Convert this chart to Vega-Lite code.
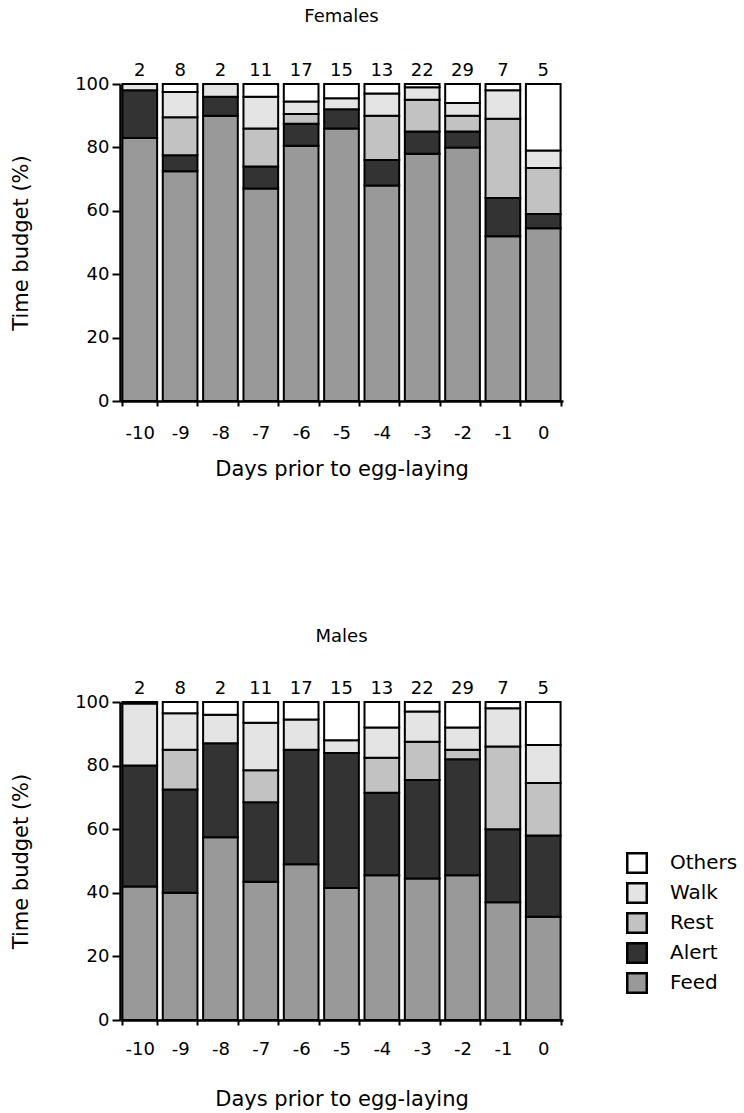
{
  "$schema": "https://vega.github.io/schema/vega-lite/v6.json",
  "padding": {"left": 10, "top": 8, "right": 5, "bottom": 4},
  "config": {
    "font": "DejaVu Sans",
    "view": {"stroke": null},
    "title": {"fontSize": 18, "fontWeight": "normal", "color": "black"},
    "axis": {
      "labelFontSize": 18, "titleFontSize": 21, "titleFontWeight": "normal",
      "labelColor": "black", "titleColor": "black", "domainColor": "black", "tickColor": "black",
      "domainWidth": 2.5, "tickWidth": 2, "grid": false
    },
    "legend": {"labelFontSize": 20, "labelColor": "black"}
  },
  "datasets": {
    "bars": [
      {"sex":"Females","day":-10,"beh":"Feed","pct":83},{"sex":"Females","day":-10,"beh":"Alert","pct":15},{"sex":"Females","day":-10,"beh":"Walk","pct":2},
      {"sex":"Females","day":-9,"beh":"Feed","pct":72.5},{"sex":"Females","day":-9,"beh":"Alert","pct":5},{"sex":"Females","day":-9,"beh":"Rest","pct":12},{"sex":"Females","day":-9,"beh":"Walk","pct":8},{"sex":"Females","day":-9,"beh":"Others","pct":2.5},
      {"sex":"Females","day":-8,"beh":"Feed","pct":90},{"sex":"Females","day":-8,"beh":"Alert","pct":6},{"sex":"Females","day":-8,"beh":"Walk","pct":4},
      {"sex":"Females","day":-7,"beh":"Feed","pct":67},{"sex":"Females","day":-7,"beh":"Alert","pct":7},{"sex":"Females","day":-7,"beh":"Rest","pct":12},{"sex":"Females","day":-7,"beh":"Walk","pct":10},{"sex":"Females","day":-7,"beh":"Others","pct":4},
      {"sex":"Females","day":-6,"beh":"Feed","pct":80.5},{"sex":"Females","day":-6,"beh":"Alert","pct":7},{"sex":"Females","day":-6,"beh":"Rest","pct":3},{"sex":"Females","day":-6,"beh":"Walk","pct":4},{"sex":"Females","day":-6,"beh":"Others","pct":5.5},
      {"sex":"Females","day":-5,"beh":"Feed","pct":86},{"sex":"Females","day":-5,"beh":"Alert","pct":6},{"sex":"Females","day":-5,"beh":"Walk","pct":3.5},{"sex":"Females","day":-5,"beh":"Others","pct":4.5},
      {"sex":"Females","day":-4,"beh":"Feed","pct":68},{"sex":"Females","day":-4,"beh":"Alert","pct":8},{"sex":"Females","day":-4,"beh":"Rest","pct":14},{"sex":"Females","day":-4,"beh":"Walk","pct":7},{"sex":"Females","day":-4,"beh":"Others","pct":3},
      {"sex":"Females","day":-3,"beh":"Feed","pct":78},{"sex":"Females","day":-3,"beh":"Alert","pct":7},{"sex":"Females","day":-3,"beh":"Rest","pct":10},{"sex":"Females","day":-3,"beh":"Walk","pct":4},{"sex":"Females","day":-3,"beh":"Others","pct":1},
      {"sex":"Females","day":-2,"beh":"Feed","pct":80},{"sex":"Females","day":-2,"beh":"Alert","pct":5},{"sex":"Females","day":-2,"beh":"Rest","pct":5},{"sex":"Females","day":-2,"beh":"Walk","pct":4},{"sex":"Females","day":-2,"beh":"Others","pct":6},
      {"sex":"Females","day":-1,"beh":"Feed","pct":52},{"sex":"Females","day":-1,"beh":"Alert","pct":12},{"sex":"Females","day":-1,"beh":"Rest","pct":25},{"sex":"Females","day":-1,"beh":"Walk","pct":9},{"sex":"Females","day":-1,"beh":"Others","pct":2},
      {"sex":"Females","day":0,"beh":"Feed","pct":54.5},{"sex":"Females","day":0,"beh":"Alert","pct":4.5},{"sex":"Females","day":0,"beh":"Rest","pct":14.5},{"sex":"Females","day":0,"beh":"Walk","pct":5.5},{"sex":"Females","day":0,"beh":"Others","pct":21},
      {"sex":"Males","day":-10,"beh":"Feed","pct":42},{"sex":"Males","day":-10,"beh":"Alert","pct":38},{"sex":"Males","day":-10,"beh":"Walk","pct":19.5},{"sex":"Males","day":-10,"beh":"Others","pct":0.5},
      {"sex":"Males","day":-9,"beh":"Feed","pct":40},{"sex":"Males","day":-9,"beh":"Alert","pct":32.5},{"sex":"Males","day":-9,"beh":"Rest","pct":12.5},{"sex":"Males","day":-9,"beh":"Walk","pct":11.5},{"sex":"Males","day":-9,"beh":"Others","pct":3.5},
      {"sex":"Males","day":-8,"beh":"Feed","pct":57.5},{"sex":"Males","day":-8,"beh":"Alert","pct":29.5},{"sex":"Males","day":-8,"beh":"Walk","pct":9},{"sex":"Males","day":-8,"beh":"Others","pct":4},
      {"sex":"Males","day":-7,"beh":"Feed","pct":43.5},{"sex":"Males","day":-7,"beh":"Alert","pct":25},{"sex":"Males","day":-7,"beh":"Rest","pct":10},{"sex":"Males","day":-7,"beh":"Walk","pct":15},{"sex":"Males","day":-7,"beh":"Others","pct":6.5},
      {"sex":"Males","day":-6,"beh":"Feed","pct":49},{"sex":"Males","day":-6,"beh":"Alert","pct":36},{"sex":"Males","day":-6,"beh":"Walk","pct":9.5},{"sex":"Males","day":-6,"beh":"Others","pct":5.5},
      {"sex":"Males","day":-5,"beh":"Feed","pct":41.5},{"sex":"Males","day":-5,"beh":"Alert","pct":42.5},{"sex":"Males","day":-5,"beh":"Walk","pct":4},{"sex":"Males","day":-5,"beh":"Others","pct":12},
      {"sex":"Males","day":-4,"beh":"Feed","pct":45.5},{"sex":"Males","day":-4,"beh":"Alert","pct":26},{"sex":"Males","day":-4,"beh":"Rest","pct":11},{"sex":"Males","day":-4,"beh":"Walk","pct":9.5},{"sex":"Males","day":-4,"beh":"Others","pct":8},
      {"sex":"Males","day":-3,"beh":"Feed","pct":44.5},{"sex":"Males","day":-3,"beh":"Alert","pct":31},{"sex":"Males","day":-3,"beh":"Rest","pct":12},{"sex":"Males","day":-3,"beh":"Walk","pct":9.5},{"sex":"Males","day":-3,"beh":"Others","pct":3},
      {"sex":"Males","day":-2,"beh":"Feed","pct":45.5},{"sex":"Males","day":-2,"beh":"Alert","pct":36.5},{"sex":"Males","day":-2,"beh":"Rest","pct":3},{"sex":"Males","day":-2,"beh":"Walk","pct":7},{"sex":"Males","day":-2,"beh":"Others","pct":8},
      {"sex":"Males","day":-1,"beh":"Feed","pct":37},{"sex":"Males","day":-1,"beh":"Alert","pct":23},{"sex":"Males","day":-1,"beh":"Rest","pct":26},{"sex":"Males","day":-1,"beh":"Walk","pct":12},{"sex":"Males","day":-1,"beh":"Others","pct":2},
      {"sex":"Males","day":0,"beh":"Feed","pct":32.5},{"sex":"Males","day":0,"beh":"Alert","pct":25.5},{"sex":"Males","day":0,"beh":"Rest","pct":16.5},{"sex":"Males","day":0,"beh":"Walk","pct":12},{"sex":"Males","day":0,"beh":"Others","pct":13.5}
    ],
    "counts": [
      {"day":-10,"n":2},{"day":-9,"n":8},{"day":-8,"n":2},{"day":-7,"n":11},{"day":-6,"n":17},{"day":-5,"n":15},
      {"day":-4,"n":13},{"day":-3,"n":22},{"day":-2,"n":29},{"day":-1,"n":7},{"day":0,"n":5}
    ]
  },
  "spacing": 149,
  "resolve": {"legend": {"fill": "independent"}},
  "vconcat": [
    {
      "title": {"text": "Females", "offset": 36},
      "width": 443, "height": 317,
      "layer": [
        {
          "data": {"name": "bars"},
          "transform": [
            {"filter": "datum.sex == 'Females'"},
            {"calculate": "indexof(['Feed','Alert','Rest','Walk','Others'], datum.beh)", "as": "o"}
          ],
          "mark": {"type": "bar", "stroke": "black", "strokeWidth": 2},
          "encoding": {
            "x": {"field": "day", "type": "ordinal",
                  "scale": {"domain": [-10,-9,-8,-7,-6,-5,-4,-3,-2,-1,0], "paddingInner": 0.14, "paddingOuter": 0.06},
                  "axis": {"title": "Days prior to egg-laying", "labelAngle": 0, "tickBand": "extent", "tickSize": 5, "labelPadding": 18, "titlePadding": 16}},
            "y": {"field": "pct", "type": "quantitative", "stack": "zero",
                  "scale": {"domain": [0, 100], "nice": false},
                  "axis": {"title": "Time budget (%)", "values": [0,10,20,30,40,50,60,70,80,90,100],
                           "labelExpr": "datum.value % 20 == 0 ? datum.label : ''",
                           "tickSize": {"condition": {"test": "datum.value % 20 != 0", "value": 5}, "value": 8},
                           "labelPadding": 3, "titlePadding": 43}},
            "fill": {"field": "beh", "type": "nominal",
                     "scale": {"domain": ["Others","Walk","Rest","Alert","Feed"], "range": ["#ffffff","#e4e4e4","#c2c2c2","#333333","#999999"]},
                     "legend": null},
            "order": {"field": "o", "type": "quantitative"}
          }
        },
        {
          "data": {"name": "counts"},
          "mark": {"type": "text", "baseline": "bottom", "dy": -4, "fontSize": 18, "color": "black"},
          "encoding": {
            "x": {"field": "day", "type": "ordinal"},
            "y": {"datum": 100},
            "text": {"field": "n", "type": "quantitative"}
          }
        }
      ]
    },
    {
      "title": {"text": "Males", "offset": 34},
      "width": 443, "height": 318,
      "layer": [
        {
          "data": {"name": "bars"},
          "transform": [
            {"filter": "datum.sex == 'Males'"},
            {"calculate": "indexof(['Feed','Alert','Rest','Walk','Others'], datum.beh)", "as": "o"}
          ],
          "mark": {"type": "bar", "stroke": "black", "strokeWidth": 2},
          "encoding": {
            "x": {"field": "day", "type": "ordinal",
                  "scale": {"domain": [-10,-9,-8,-7,-6,-5,-4,-3,-2,-1,0], "paddingInner": 0.14, "paddingOuter": 0.06},
                  "axis": {"title": "Days prior to egg-laying", "labelAngle": 0, "tickBand": "extent", "tickSize": 5, "labelPadding": 15, "titlePadding": 30}},
            "y": {"field": "pct", "type": "quantitative", "stack": "zero",
                  "scale": {"domain": [0, 100], "nice": false},
                  "axis": {"title": "Time budget (%)", "values": [0,10,20,30,40,50,60,70,80,90,100],
                           "labelExpr": "datum.value % 20 == 0 ? datum.label : ''",
                           "tickSize": {"condition": {"test": "datum.value % 20 != 0", "value": 5}, "value": 8},
                           "labelPadding": 3, "titlePadding": 43}},
            "fill": {"field": "beh", "type": "nominal",
                     "scale": {"domain": ["Others","Walk","Rest","Alert","Feed"], "range": ["#ffffff","#e4e4e4","#c2c2c2","#333333","#999999"]},
                     "legend": {"title": null, "orient": "none", "legendX": 506, "legendY": 150,
                                "symbolType": "square", "symbolSize": 380, "symbolStrokeColor": "black", "symbolStrokeWidth": 2.5,
                                "labelOffset": 22, "rowPadding": 0, "padding": 0}},
            "order": {"field": "o", "type": "quantitative"}
          }
        },
        {
          "data": {"name": "counts"},
          "mark": {"type": "text", "baseline": "bottom", "dy": -4, "fontSize": 18, "color": "black"},
          "encoding": {
            "x": {"field": "day", "type": "ordinal"},
            "y": {"datum": 100},
            "text": {"field": "n", "type": "quantitative"}
          }
        }
      ]
    }
  ]
}
